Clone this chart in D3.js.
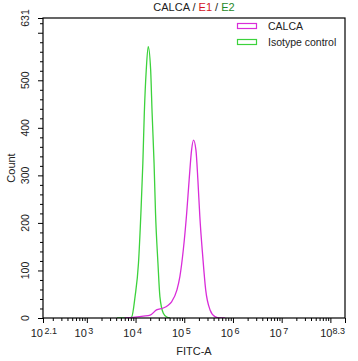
<!DOCTYPE html>
<html>
<head>
<meta charset="utf-8">
<script src="https://cdn.jsdelivr.net/npm/d3@7"></script>
<style>
  body { margin: 0; background: #fff; }
  svg { display: block; font-family: "Liberation Sans", Arial, sans-serif; }
</style>
</head>
<body>
<svg id="chart" width="358" height="361"></svg>
<script>
var isoLog   = [3.62, 3.85, 3.92, 3.99, 4.06, 4.11, 4.15, 4.18, 4.22, 4.26, 4.31, 4.34, 4.38, 4.41, 4.46, 4.50, 4.57, 4.64, 4.71];
var isoCount = [0,    0,    2,    45,   115,  221,  326,  431,  522,  571,  522,  431,  326,  221,  115,  45,   10,   2,    0];

var calcaLog   = [3.78, 3.99, 4.16, 4.30, 4.43, 4.57, 4.67, 4.74, 4.85, 4.91, 4.98, 5.05, 5.10, 5.15, 5.19, 5.24, 5.28, 5.32, 5.38, 5.44, 5.53, 5.63, 5.73, 5.84];
var calcaCount = [0,    2,    4,    6,    17,   21,   27,   34,   59,   87,   143,  221,  290,  353,  374,  353,  290,  213,  129,  59,   17,   3,    0,    0];

var xMajorExp = [3, 4, 5, 6, 7, 8];
var xLabelExp = [2.1, 3, 4, 5, 6, 7, 8.3];
var xEnds = [2.1, 8.3];
var yTicks = [0, 100, 200, 300, 400, 500, 600];
var yLabels = [0, 100, 200, 300, 400, 500];
var yMax = 631;

var seriesNames = ["CALCA", "Isotype control"];
var seriesColors = ["#d92cd9", "#3cd23c"];

var svg = d3.select("#chart");
var pL = 43, pR = 345, pT = 18, pB = 318;

var x = d3.scaleLog().domain([Math.pow(10, xEnds[0]), Math.pow(10, xEnds[1])]).range([pL, pR]);
var y = d3.scaleLinear().domain([0, yMax]).range([pB, pT]);

// minor ticks: 2..9 x 10^n inside the domain
var xMinor = [];
for (var e = 2; e <= 8; e++) {
  for (var m = 2; m <= 9; m++) {
    var v = m * Math.pow(10, e);
    if (v > x.domain()[0] && v < x.domain()[1]) xMinor.push(v);
  }
}
var yMinor = d3.range(20, yMax, 20).filter(function(v){ return v % 100 != 0; });

// x axis
var xMaj = xMajorExp.map(function(e){ return Math.pow(10, e); }).concat(x.domain());
var gx = svg.append("g").attr("transform", "translate(0," + pB + ")");
gx.call(d3.axisBottom(x).tickValues(xMaj).tickSize(5).tickFormat(""));
gx.append("g").call(d3.axisBottom(x).tickValues(xMinor).tickSize(3).tickFormat(""));
gx.selectAll(".domain").remove();
gx.selectAll("line").attr("stroke", "#000");

// x tick labels 10^n
xLabelExp.forEach(function(e, i){
  var px = x(Math.pow(10, e));
  var last = (i == xLabelExp.length - 1);
  if (last) {
    var t = svg.append("text").attr("x", px).attr("y", 337).attr("text-anchor", "end")
      .attr("font-size", 11).attr("fill", "#222");
    t.append("tspan").text("10");
    t.append("tspan").attr("font-size", 9).attr("dy", -3).text(String(e));
  } else {
    svg.append("text").attr("x", px).attr("y", 337).attr("text-anchor", "end")
      .attr("font-size", 11).attr("fill", "#222").text("10");
    svg.append("text").attr("x", px + 1.5).attr("y", 334).attr("font-size", 9)
      .attr("fill", "#222").text(String(e));
  }
});

// y axis
var gy = svg.append("g").attr("transform", "translate(" + pL + ",0)");
gy.call(d3.axisLeft(y).tickValues(yTicks.concat([yMax])).tickSize(5).tickFormat(""));
gy.append("g").call(d3.axisLeft(y).tickValues(yMinor).tickSize(3).tickFormat(""));
gy.selectAll(".domain").remove();
gy.selectAll("line").attr("stroke", "#000");

yLabels.concat([yMax]).forEach(function(v){
  svg.append("text")
    .attr("transform", "translate(29," + y(v) + ") rotate(-90)")
    .attr("text-anchor", "middle")
    .attr("font-size", 10.5)
    .attr("fill", "#222")
    .text(v);
});

// axis titles
svg.append("text").attr("x", 194).attr("y", 355).attr("text-anchor", "middle")
  .attr("font-size", 11).attr("fill", "#222").text("FITC-A");
svg.append("text").attr("transform", "translate(15,168) rotate(-90)").attr("text-anchor", "middle")
  .attr("font-size", 11).attr("fill", "#222").text("Count");

// title
var title = svg.append("text").attr("x", 194).attr("y", 11).attr("text-anchor", "middle")
  .attr("font-size", 11).attr("fill", "#222");
title.append("tspan").text("CALCA / ");
title.append("tspan").attr("fill", "#d4141e").text("E1");
title.append("tspan").text(" / ");
title.append("tspan").attr("fill", "#1f8a2a").text("E2");

// curves
svg.append("clipPath").attr("id", "clip").append("rect")
  .attr("x", pL).attr("y", pT).attr("width", pR - pL).attr("height", pB - pT);

var line = d3.line()
  .x(function(d){ return x(Math.pow(10, d[0])); })
  .y(function(d){ return y(d[1]); })
  .curve(d3.curveMonotoneX);

var plot = svg.append("g").attr("clip-path", "url(#clip)");
plot.append("path").datum(d3.zip(isoLog, isoCount))
  .attr("d", line).attr("fill", "none").attr("stroke", seriesColors[1]).attr("stroke-width", 1.3);
plot.append("path").datum(d3.zip(calcaLog, calcaCount))
  .attr("d", line).attr("fill", "none").attr("stroke", seriesColors[0]).attr("stroke-width", 1.3);

// frame
svg.append("rect").attr("x", pL).attr("y", pT).attr("width", pR - pL).attr("height", pB - pT)
  .attr("fill", "none").attr("stroke", "#000").attr("stroke-width", 1.2);

// legend
seriesNames.forEach(function(name, i){
  var ly = 23.5 + i * 16;
  svg.append("rect").attr("x", 237.5).attr("y", ly).attr("width", 19).attr("height", 5)
    .attr("fill", "none").attr("stroke", seriesColors[i]).attr("stroke-width", 1.2);
  svg.append("text").attr("x", 268).attr("y", ly + 6.5).attr("font-size", 10.5).attr("fill", "#222").text(name);
});
</script>
</body>
</html>
